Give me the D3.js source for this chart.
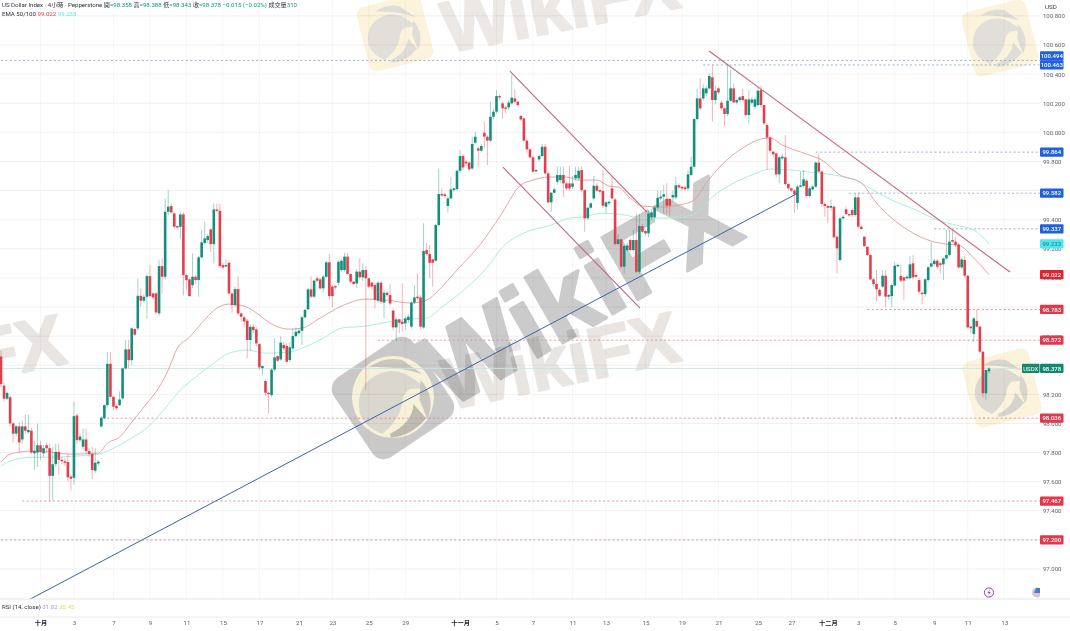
<!DOCTYPE html>
<html>
<head>
<meta charset="utf-8">
<script src="https://cdn.jsdelivr.net/npm/d3@7"></script>
<style>
  html, body { margin: 0; padding: 0; background: #fff; }
  svg { display: block; filter: blur(0.4px); }
  text { font-family: Roboto, "Noto Sans CJK TC", sans-serif; }
</style>
</head>
<body>
<div id="grafico"></div>
<script>
// Velas de 4 horas [open, high, low, close]
const octCandles = [
[98.46,98.50,98.25,98.27],[98.26,98.28,98.15,98.17],[98.17,98.22,98.16,98.21],[98.18,98.19,97.98,98.00],[98.00,98.01,97.87,97.93],[97.93,97.99,97.91,97.98],
[97.98,98.01,97.80,97.87],[97.89,98.02,97.86,97.98],[97.98,98.06,97.93,97.95],[97.94,98.06,97.93,97.955],[97.95,97.97,97.79,97.80],[97.795,97.88,97.68,97.812],
[97.80,98.00,97.70,97.85],[97.85,97.88,97.75,97.805],[97.795,97.85,97.77,97.83],[97.85,97.87,97.80,97.83],[97.83,97.86,97.47,97.64],[97.64,97.84,97.47,97.72],
[97.72,97.86,97.70,97.805],[97.805,97.86,97.645,97.75],[97.75,97.77,97.72,97.74],[97.74,97.76,97.71,97.73],[97.735,97.79,97.60,97.63],[97.635,97.65,97.54,97.62],
[97.627,98.15,97.58,98.05],[98.055,98.07,97.86,97.885],[97.885,97.93,97.87,97.91],[97.84,97.965,97.82,97.89],[97.89,97.965,97.79,97.81],[97.81,97.83,97.77,97.79],
[97.79,97.84,97.62,97.68],[97.675,97.83,97.66,97.73],[97.725,97.75,97.71,97.737],[97.98,98.05,97.97,98.04],[98.035,98.13,98.03,98.126],[98.126,98.49,98.11,98.41],
[98.41,98.49,98.17,98.183],[98.183,98.19,98.09,98.115],[98.12,98.13,98.09,98.104],[98.126,98.22,98.12,98.165],[98.172,98.385,98.165,98.378],[98.378,98.575,98.37,98.509],
[98.509,98.575,98.378,98.435],[98.435,98.66,98.40,98.653],[98.648,98.66,98.60,98.61],[98.653,98.995,98.64,98.877],[98.877,98.93,98.80,98.843],[98.843,98.89,98.83,98.87],
[98.87,99.03,98.72,99.012],[99.012,99.09,98.87,98.875],[98.893,98.90,98.85,98.866],[98.893,98.90,98.745,98.763],[98.756,99.122,98.74,99.081],[99.081,99.134,98.893,99.008],
[99.008,99.546,98.99,99.454],[99.454,99.603,99.43,99.489],[99.493,99.51,99.44,99.45],[99.443,99.45,99.34,99.351],[99.356,99.36,99.33,99.347],[99.351,99.45,99.27,99.436],
[99.436,99.45,98.88,99.019],[99.019,99.03,98.92,98.985],[98.99,99.00,98.87,98.875],[98.95,99.168,98.93,99.008],[99.008,99.02,98.96,98.985],[98.985,99.15,98.87,99.141],
[99.141,99.33,99.13,99.244],[99.24,99.386,99.23,99.271],[99.26,99.30,99.24,99.287],[99.333,99.34,99.18,99.232],[99.232,99.512,99.10,99.47],[99.47,99.51,99.45,99.461],
[99.461,99.51,99.07,99.081],[99.088,99.10,99.06,99.072],[99.081,99.127,99.07,99.088],[99.104,99.12,98.88,98.893],[98.893,98.90,98.76,98.813],[98.813,98.94,98.80,98.923],
[98.923,99.008,98.74,98.756],[98.756,98.76,98.70,98.733],[98.729,98.74,98.66,98.70],[98.706,98.72,98.447,98.573],[98.573,98.68,98.50,98.664],[98.664,98.68,98.62,98.641],
[98.646,98.66,98.53,98.55],[98.545,98.55,98.37,98.385],[98.38,98.40,98.33,98.394],[98.291,98.30,98.19,98.211],[98.211,98.215,98.07,98.206],[98.195,98.38,98.18,98.37],
[98.37,98.585,98.36,98.454],[98.463,98.47,98.42,98.431],[98.44,98.60,98.43,98.555],[98.539,98.56,98.50,98.516],[98.532,98.55,98.41,98.424],[98.436,98.56,98.42,98.523],
[98.516,98.65,98.50,98.60],[98.60,98.66,98.59,98.63],[98.62,98.65,98.61,98.637],[98.637,98.74,98.54,98.729],[98.729,98.79,98.72,98.78],[98.784,98.93,98.78,98.921],
[98.921,99.01,98.86,98.871],[98.871,98.99,98.86,98.981],[98.997,99.01,98.97,98.981],[98.99,99.00,98.92,98.928],[98.928,99.02,98.90,99.008],[99.008,99.12,99.00,99.107],
[99.107,99.164,98.85,98.875],[98.94,98.95,98.80,98.875],[98.944,98.95,98.92,98.935],[98.967,99.12,98.95,99.111],[99.054,99.13,99.04,99.118],[99.054,99.173,99.04,99.146],
[99.146,99.17,99.02,99.027],[99.027,99.03,98.96,98.974],[98.974,98.98,98.95,98.958],[98.962,99.06,98.93,99.043],[99.043,99.134,98.99,99.004],[99.004,99.10,98.98,99.054],
[99.054,99.08,98.23,98.997],[98.997,99.00,98.93,98.94],[98.967,98.97,98.92,98.94],[98.951,98.97,98.79,98.848],[98.843,98.98,98.83,98.967],[98.967,98.98,98.82,98.836],
[98.83,98.92,98.72,98.898],[98.898,98.91,98.87,98.882],[98.882,98.96,98.81,98.824],[98.775,98.79,98.64,98.66],[98.66,98.73,98.57,98.715],[98.715,98.72,98.62,98.692],
[98.699,98.962,98.63,98.683],[98.688,98.74,98.64,98.722],[98.71,98.75,98.69,98.733],[98.665,98.84,98.65,98.83],[98.83,98.95,98.82,98.866],[98.871,99.03,98.85,98.86],
[98.866,98.88,98.65,98.665],[98.66,99.375,98.65,99.185],[99.191,99.237,99.15,99.164],[99.164,99.226,98.997,99.104],[99.127,99.13,98.94,99.104],[99.118,99.37,99.11,99.363],
[99.363,99.752,99.35,99.576],[99.576,99.615,99.56,99.567],[99.574,99.58,99.55,99.562],[99.494,99.56,99.448,99.546],[99.546,99.695,99.54,99.608],[99.604,99.62,99.59,99.615],
[99.61,99.745,99.60,99.736]
];

const novCandles = [
[99.736,99.878,99.72,99.837],[99.837,99.85,99.74,99.759],[99.798,99.81,99.77,99.787],[99.792,99.80,99.73,99.746],[99.752,99.97,99.74,99.92],[99.929,100.004,99.92,99.97],
[99.89,99.90,99.764,99.874],[99.874,99.92,99.86,99.906],[99.997,100.073,99.89,99.97],[99.97,99.98,99.775,99.943],[99.943,100.21,99.93,100.107],[100.107,100.16,100.09,100.142],
[100.142,100.29,100.13,100.249],[100.249,100.26,100.22,100.24],[100.199,100.21,100.096,100.165],[100.171,100.18,100.13,100.162],[100.171,100.22,100.15,100.204],[100.199,100.394,100.19,100.238],
[100.233,100.30,100.20,100.21],[100.21,100.22,100.17,100.188],[100.112,100.12,100.08,100.089],[100.096,100.10,99.93,99.943],[99.943,99.95,99.86,99.883],[99.883,99.89,99.82,99.828],
[99.828,99.84,99.72,99.73],[99.735,99.75,99.73,99.741],[99.814,99.85,99.80,99.837],[99.837,99.92,99.83,99.901],[99.901,99.92,99.71,99.718],[99.718,99.73,99.51,99.519],
[99.519,99.59,99.455,99.585],[99.585,99.62,99.58,99.608],[99.661,99.764,99.64,99.707],[99.672,99.764,99.65,99.707],[99.707,99.764,99.556,99.649],[99.649,99.66,99.60,99.615],
[99.649,99.768,99.60,99.615],[99.626,99.70,99.61,99.649],[99.684,99.764,99.67,99.707],[99.684,99.76,99.67,99.736],[99.741,99.764,99.59,99.603],[99.603,99.61,99.317,99.409],
[99.409,99.49,99.40,99.482],[99.482,99.52,99.47,99.512],[99.546,99.70,99.53,99.633],[99.633,99.65,99.59,99.599],[99.603,99.61,99.58,99.592],[99.597,99.741,99.48,99.496],
[99.489,99.53,99.45,99.519],[99.512,99.53,99.50,99.523],[99.615,99.70,99.54,99.546],[99.539,99.55,99.22,99.233],[99.233,99.30,99.22,99.265],[99.265,99.27,99.06,99.077],
[99.077,99.23,99.03,99.219],[99.191,99.24,99.18,99.223],[99.26,99.27,99.18,99.191],[99.191,99.33,99.18,99.26],[99.26,99.443,99.03,99.042],[99.042,99.44,99.03,99.356],
[99.356,99.37,99.31,99.317],[99.322,99.33,99.29,99.306],[99.306,99.46,99.28,99.443],[99.416,99.47,99.40,99.45],[99.416,99.50,99.40,99.484],[99.484,99.60,99.47,99.551],
[99.546,99.60,99.53,99.558],[99.558,99.638,99.44,99.574],[99.542,99.65,99.44,99.496],[99.542,99.55,99.43,99.496],[99.553,99.60,99.52,99.569],[99.553,99.695,99.54,99.636],
[99.636,99.65,99.61,99.622],[99.626,99.63,99.60,99.615],[99.622,99.63,99.60,99.61],[99.615,99.74,99.60,99.711],[99.707,99.832,99.70,99.764],[99.764,100.10,99.75,100.091],
[100.091,100.30,100.08,100.233],[100.233,100.371,100.15,100.165],[100.233,100.33,100.22,100.302],[100.268,100.32,100.25,100.302],[100.302,100.405,100.29,100.387],[100.378,100.462,100.073,100.222],
[100.222,100.32,100.19,100.286],[100.302,100.31,100.26,100.274],[100.204,100.22,100.15,100.165],[100.165,100.17,100.04,100.126],[100.126,100.462,100.11,100.217],[100.217,100.428,100.21,100.302],
[100.302,100.336,100.20,100.206],[100.206,100.23,100.19,100.222],[100.222,100.25,100.21,100.24],[100.249,100.30,100.21,100.222],[100.226,100.23,100.11,100.119],[100.119,100.29,100.061,100.226],
[100.203,100.24,100.19,100.226],[100.176,100.24,100.16,100.226],[100.187,100.313,100.18,100.286],[100.29,100.32,100.17,100.187],[100.187,100.19,100.05,100.062],[100.05,100.06,99.741,99.965],
[99.965,99.97,99.86,99.874],[99.867,99.87,99.83,99.849],[99.855,99.86,99.69,99.711],[99.711,99.84,99.65,99.828],[99.821,99.85,99.81,99.833],[99.828,99.981,99.63,99.645],
[99.645,99.65,99.60,99.615],[99.615,99.62,99.59,99.60],[99.60,99.61,99.45,99.575],[99.515,99.64,99.47,99.627],[99.627,99.73,99.62,99.635],[99.631,99.74,99.62,99.677],
[99.668,99.68,99.55,99.563],[99.563,99.63,99.55,99.615],[99.608,99.64,99.60,99.627],[99.627,99.80,99.62,99.792],[99.792,99.856,99.72,99.73],[99.73,99.74,99.49,99.508],
[99.508,99.52,99.42,99.494]
];

const decCandles = [
[99.494,99.50,99.38,99.482],[99.482,99.54,99.46,99.494],[99.489,99.50,99.27,99.279],[99.283,99.29,99.03,99.203],[99.123,99.42,99.11,99.409],[99.409,99.43,99.40,99.42],
[99.471,99.49,99.43,99.439],[99.439,99.44,99.42,99.432],[99.466,99.48,99.42,99.432],[99.432,99.581,99.42,99.553],[99.553,99.58,99.34,99.352],[99.352,99.36,99.33,99.336],
[99.283,99.29,99.21,99.219],[99.214,99.22,99.15,99.157],[99.157,99.165,98.98,98.99],[98.99,99.00,98.94,98.958],[98.958,99.054,98.837,98.921],[98.917,98.93,98.87,98.878],
[98.94,99.054,98.93,99.015],[99.015,99.054,98.80,98.871],[98.871,98.89,98.85,98.882],[98.875,98.96,98.80,98.951],[98.947,99.11,98.94,99.084],[99.082,99.10,99.07,99.089],
[99.013,99.09,98.97,98.981],[99.004,99.01,98.848,98.981],[98.997,99.02,98.98,99.008],[98.997,99.15,98.99,99.093],[99.10,99.157,98.99,99.004],[99.02,99.03,99.00,99.008],
[98.985,99.00,98.89,98.905],[98.898,98.91,98.82,98.889],[98.889,99.00,98.87,98.99],[98.985,99.08,98.97,99.073],[99.077,99.249,99.07,99.10],[99.095,99.13,99.08,99.118],
[99.118,99.13,99.06,99.077],[99.10,99.11,99.03,99.089],[99.093,99.14,98.985,99.134],[99.134,99.329,99.12,99.157],[99.157,99.329,99.15,99.249],[99.26,99.33,99.24,99.249],
[99.249,99.28,99.21,99.226],[99.23,99.24,99.06,99.072],[99.072,99.14,99.06,99.127],[99.123,99.15,99.00,99.015],[99.015,99.02,98.65,98.66],[98.665,98.67,98.62,98.654],
[98.615,98.73,98.56,98.722],[98.704,98.784,98.66,98.665],[98.665,98.67,98.48,98.493],[98.493,98.50,98.18,98.207],[98.207,98.37,98.166,98.367],[98.358,98.388,98.343,98.378]
];

const emaRapidaBarras = [0,3,10,16,23,32,35,39,43,48,52,55,58,62,66,71,75,80,85,88,95,99,105,112,120,127,135,140,144,150,158,164,171,175,180,186,190,196,200,203,207,211,218,223,228,232,237,244,250,253,257,265,270,276,283,288,293,300,306,311,315,320,325];
const emaRapida = [97.734,97.789,97.81,97.803,97.789,97.796,97.865,97.906,98.009,98.139,98.249,98.366,98.517,98.593,98.689,98.792,98.82,98.806,98.744,98.696,98.648,98.655,98.724,98.806,98.854,98.847,98.827,98.847,98.916,99.054,99.239,99.418,99.638,99.672,99.693,99.693,99.672,99.672,99.631,99.624,99.548,99.493,99.487,99.5,99.535,99.652,99.775,99.892,99.954,99.961,99.913,99.851,99.81,99.707,99.652,99.514,99.411,99.308,99.253,99.232,99.225,99.136,99.022];

const emaLentaBarras = [0,3,10,16,24,32,37,43,49,53,59,64,70,75,81,87,95,99,106,112,120,127,135,140,145,153,160,165,172,181,187,191,198,205,211,218,224,229,234,241,247,253,260,266,274,281,288,293,301,308,314,320,325];
const emaLenta = [97.706,97.741,97.768,97.768,97.775,97.789,97.83,97.899,97.988,98.078,98.229,98.318,98.414,98.483,98.504,98.483,98.49,98.517,98.586,98.655,98.669,98.696,98.717,98.724,98.799,98.93,99.074,99.212,99.308,99.363,99.411,99.418,99.445,99.432,99.411,99.411,99.418,99.452,99.555,99.652,99.707,99.748,99.741,99.727,99.707,99.672,99.59,99.535,99.466,99.397,99.363,99.329,99.233];

// Ejes
const preciosEje = [100.8,100.6,100.4,100.2,100,99.8,99.6,99.4,99.2,99,98.8,98.6,98.4,98.2,98,97.8,97.6,97.4,97.2,97];
const barrasEje = [13,24,37,49,61,73,85,98,109,121,133,151,163,175,188,199,212,224,236,249,260,272,282,294,307,318,330];
const etiquetasEje = ['十月','3','7','9','11','15','17','21','23','25','29','十一月','5','7','11','13','15','19','21','25','27','十二月','3','5','9','11','13'];

// Niveles horizontales y barra donde empieza cada uno
const nivelesAzules = [100.494,100.463,99.864,99.582,99.337];
const inicioAzules = [0,231,268,279,307];
const nivelesRojos = [98.783,98.572,98.036,97.467,97.2];
const inicioRojos = [285,124,35,7,0];
const precioActual = 98.378;

// Lineas de tendencia: [barra inicial, precio inicial, barra final, precio final]
const tendenciasRojas = [[167.4,100.421,212.5,99.452],[165.1,99.761,210.2,98.792],[232.9,100.559,331.9,99.04]];
const tendenciaAzul = [9.5,96.792,262.2,99.583];

const ancho = 1070, alto = 631;
const bordeDerecho = 1040, bordePanel = 599;

const xScale = d3.scaleLinear().domain([0, 325]).range([1, 989]);
const yScale = d3.scaleLinear().domain([97, 100.6]).range([569, 45]);

const verde = '#089981', rojo = '#e0404e';
const candles = octCandles.concat(novCandles, decCandles);

const svg = d3.select('#grafico').append('svg').attr('width', ancho).attr('height', alto);
svg.append('rect').attr('width', ancho).attr('height', alto).attr('fill', '#fff');

svg.append('defs').append('clipPath').attr('id', 'panel')
  .append('rect').attr('width', bordeDerecho).attr('height', bordePanel);

// Marcas de agua, debajo de todo
const marca = svg.append('g');

function textoMarca(texto, x, y, tam, giro, color) {
  marca.append('text')
    .attr('transform', 'translate(' + x + ',' + y + ')rotate(' + giro + ')')
    .attr('text-anchor', 'middle')
    .style('font-family', 'Liberation Sans')
    .style('font-weight', 'bold')
    .style('font-size', tam + 'px')
    .style('mix-blend-mode', 'multiply')
    .attr('fill', color)
    .attr('stroke', color)
    .attr('stroke-width', tam * 0.03)
    .attr('stroke-linejoin', 'round')
    .text(texto);
}

// Aguila del logo: cabeza, rayos del obturador y media luna
function aguila(x, y, esc, colorRayos, colorCabeza, colorLuna) {
  const g = marca.append('g').attr('transform', 'translate(' + x + ',' + y + ')scale(' + esc + ')rotate(-8)');
  g.append('path')
    .attr('d', 'M-27,8 Q-28,-14 -8,-20 Q6,-24 18,-12 L27,-4 L14,-5 Q8,-3 6,6 Q2,18 -12,26 Q-24,20 -27,8Z')
    .attr('fill', colorCabeza);
  g.append('path').attr('d', 'M-15,-26 Q-2,-33 11,-28 L25,-15 Q6,-24 -15,-26Z').attr('fill', colorRayos);
  g.append('path').attr('d', 'M23,-11 Q33,4 24,20 L20,4Z').attr('fill', colorRayos);
  g.append('path').attr('d', 'M-6,27 Q12,21 15,7 L23,19 Q10,31 -6,30Z').attr('fill', colorLuna);
}

function cuadroCrema(x, y, lado, giro) {
  marca.append('rect')
    .attr('x', -lado / 2).attr('y', -lado / 2)
    .attr('width', lado).attr('height', lado).attr('rx', 8)
    .attr('transform', 'translate(' + x + ',' + y + ')rotate(' + giro + ')')
    .attr('fill', '#fbf3dc');
}

cuadroCrema(395, 33, 66, -14);
aguila(393, 34, 0.95, '#e0ddd9', '#e2dfdb', '#e0ddd9');
cuadroCrema(1000, 38, 66, -14);
aguila(998, 38, 0.95, '#e0ddd9', '#e2dfdb', '#e0ddd9');
cuadroCrema(1002, 388, 68, -14);
aguila(1000, 388, 0.95, '#d9d6d0', '#dcd9d3', '#d6d3cc');

textoMarca('WikiFX', 565, 30, 72, -11, '#ebe8e6');
textoMarca('FX', 24, 372, 72, -12, '#e8e5e3');
textoMarca('WikiFX', 566, 385, 72, -12, '#e8e5e3');
textoMarca('WikiFX', 597, 323, 104, -30, '#cbcbcb');

marca.append('rect')
  .attr('x', -48).attr('y', -48).attr('width', 96).attr('height', 96).attr('rx', 14)
  .attr('transform', 'translate(393,398)rotate(-34)')
  .attr('fill', '#c9c9c9');
marca.append('circle').attr('cx', 393).attr('cy', 397).attr('r', 41).attr('fill', '#f8f1da');
aguila(393, 398, 1.3, '#c9c7c0', '#d9d7ce', '#bdbbb2');

// Rejilla
svg.append('g').selectAll('line').data(preciosEje).enter().append('line')
  .attr('x1', 0).attr('x2', bordeDerecho)
  .attr('y1', (d) => yScale(d)).attr('y2', (d) => yScale(d))
  .attr('stroke', '#f1f1f1').attr('stroke-width', 1)
  .style('mix-blend-mode', 'multiply');

svg.append('g').selectAll('line').data(barrasEje).enter().append('line')
  .attr('x1', (d) => xScale(d)).attr('x2', (d) => xScale(d))
  .attr('y1', 0).attr('y2', bordePanel)
  .attr('stroke', '#f7f7f7').attr('stroke-width', 1)
  .style('mix-blend-mode', 'multiply');

const panel = svg.append('g').attr('clip-path', 'url(#panel)');

// Niveles punteados
function niveles(datos, inicios, color) {
  panel.append('g').selectAll('line').data(datos).enter().append('line')
    .attr('x1', (d, i) => xScale(inicios[i])).attr('x2', bordeDerecho)
    .attr('y1', (d) => yScale(d)).attr('y2', (d) => yScale(d))
    .attr('stroke', color).attr('stroke-width', 0.9)
    .attr('stroke-dasharray', '2 2.4');
}
niveles(nivelesAzules, inicioAzules, '#92aac8');
niveles(nivelesRojos, inicioRojos, '#de8a95');

panel.append('line')
  .attr('x1', 0).attr('x2', bordeDerecho)
  .attr('y1', yScale(precioActual)).attr('y2', yScale(precioActual))
  .attr('stroke', '#bfeae0').attr('stroke-width', 0.9);

// Medias moviles
const lineaEma = (barras) => d3.line()
  .x((d, i) => xScale(barras[i]))
  .y((d) => yScale(d))
  .curve(d3.curveMonotoneX);

panel.append('path').datum(emaLenta)
  .attr('d', lineaEma(emaLentaBarras))
  .attr('fill', 'none').attr('stroke', '#9decdf').attr('stroke-width', 0.9);

panel.append('path').datum(emaRapida)
  .attr('d', lineaEma(emaRapidaBarras))
  .attr('fill', 'none').attr('stroke', '#e89a9c').attr('stroke-width', 0.9);

// Velas
const velas = panel.append('g').selectAll('g').data(candles).enter().append('g')
  .attr('class', 'vela');

velas.append('line')
  .attr('x1', (d, i) => xScale(i)).attr('x2', (d, i) => xScale(i))
  .attr('y1', (d) => yScale(d[1])).attr('y2', (d) => yScale(d[2]))
  .attr('stroke', (d) => d[3] >= d[0] ? verde : rojo)
  .attr('stroke-opacity', 0.4).attr('stroke-width', 1);

velas.append('rect')
  .attr('x', (d, i) => xScale(i) - 1.3)
  .attr('width', 2.6)
  .attr('y', (d) => yScale(Math.max(d[0], d[3])))
  .attr('height', (d) => Math.max(1.4, Math.abs(yScale(d[0]) - yScale(d[3]))))
  .attr('fill', (d) => d[3] >= d[0] ? '#148f7b' : rojo);

// Lineas de tendencia
panel.append('g').selectAll('line').data(tendenciasRojas).enter().append('line')
  .attr('x1', (d) => xScale(d[0])).attr('y1', (d) => yScale(d[1]))
  .attr('x2', (d) => xScale(d[2])).attr('y2', (d) => yScale(d[3]))
  .attr('stroke', '#c8647a').attr('stroke-width', 1.1);

panel.append('line')
  .attr('x1', xScale(tendenciaAzul[0])).attr('y1', yScale(tendenciaAzul[1]))
  .attr('x2', xScale(tendenciaAzul[2])).attr('y2', yScale(tendenciaAzul[3]))
  .attr('stroke', '#3d62ab').attr('stroke-width', 1);

// Iconos de eventos
const rayo = svg.append('g').attr('transform', 'translate(' + xScale(325) + ',592.5)');
rayo.append('circle').attr('r', 4.6).attr('fill', '#fff').attr('stroke', '#9c3fc0').attr('stroke-width', 1);
rayo.append('path').attr('d', 'M0.8,-2.8 L-1.6,0.5 L-0.1,0.5 L-0.8,2.8 L1.6,-0.5 L0.1,-0.5Z').attr('fill', '#9c3fc0');

const bandera = svg.append('g').attr('clip-path', 'url(#panel)');
bandera.append('circle').attr('cx', 1037).attr('cy', 592.5).attr('r', 5).attr('fill', '#d8c8c8');
bandera.append('path').attr('d', 'M1036,588 L1040,588 L1040,593 L1034,593Z').attr('fill', '#3f7fd8');

// Separadores de paneles
svg.append('line').attr('x1', 0).attr('x2', ancho).attr('y1', bordePanel).attr('y2', bordePanel)
  .attr('stroke', '#e4e4e4').attr('stroke-width', 1);
svg.append('line').attr('x1', 0).attr('x2', ancho).attr('y1', 617).attr('y2', 617)
  .attr('stroke', '#ececec').attr('stroke-width', 1);

// Eje de precios
const ejeY = svg.append('g')
  .attr('transform', 'translate(' + (bordeDerecho + 3) + ',0)')
  .call(d3.axisRight(yScale).tickValues(preciosEje).tickFormat(d3.format('.3f')).tickSize(0).tickPadding(0));
ejeY.select('.domain').remove();
ejeY.selectAll('text').style('font-size', '6px').attr('fill', '#5a5f6a');

svg.append('text').attr('x', 1045).attr('y', 9)
  .style('font-size', '6.2px').attr('fill', '#3a3e48').text('USD');

// Eje de tiempo
const ejeX = svg.append('g')
  .attr('transform', 'translate(0,617)')
  .call(d3.axisBottom(xScale).tickValues(barrasEje)
    .tickFormat((d, i) => etiquetasEje[i]).tickSize(0).tickPadding(4));
ejeX.select('.domain').remove();
ejeX.selectAll('text')
  .style('font-size', '6.2px')
  .style('font-weight', (d, i) => etiquetasEje[i].length > 2 || etiquetasEje[i] === '十月' ? 'bold' : 'normal')
  .attr('fill', (d, i) => etiquetasEje[i].length > 2 || etiquetasEje[i] === '十月' ? '#20232c' : '#5a5f6a');

// Etiquetas de precio a la derecha
const etiquetas = nivelesAzules.map((d) => ({ v: d, fondo: '#1f5fe0', texto: '#fff' }))
  .concat(nivelesRojos.map((d) => ({ v: d, fondo: '#e6364a', texto: '#fff' })))
  .concat([{ v: emaLenta[emaLenta.length - 1], fondo: '#4fe6ee', texto: '#17979e' }])
  .concat([{ v: emaRapida[emaRapida.length - 1], fondo: '#e5202f', texto: '#fff' }])
  .concat([{ v: precioActual, fondo: '#14876f', texto: '#fff' }]);

etiquetas.sort((a, b) => b.v - a.v);
let yPrevia = -100;
etiquetas.forEach(function (e) {
  e.y = Math.max(yScale(e.v), yPrevia + 9);
  if (e.v === nivelesAzules[0]) e.y = yScale(e.v) - 4.5;
  yPrevia = e.y;
});

const tags = svg.append('g').selectAll('g').data(etiquetas).enter().append('g')
  .attr('transform', (d) => 'translate(' + bordeDerecho + ',' + d.y + ')');
tags.append('rect')
  .attr('x', 0).attr('y', -4.6).attr('width', 23.5).attr('height', 9.2).attr('rx', 1)
  .attr('fill', (d) => d.fondo);
tags.append('text')
  .attr('x', 11.75).attr('y', 2.1).attr('text-anchor', 'middle')
  .style('font-size', '6px').style('font-weight', 500)
  .attr('fill', (d) => d.texto)
  .text((d) => d3.format('.3f')(d.v));

const tagSimbolo = svg.append('g')
  .attr('transform', 'translate(1022,' + yScale(precioActual) + ')');
tagSimbolo.append('rect').attr('y', -4.6).attr('width', 17.5).attr('height', 9.2).attr('rx', 1).attr('fill', '#14876f');
tagSimbolo.append('text').attr('x', 8.75).attr('y', 2.1).attr('text-anchor', 'middle')
  .style('font-size', '6px').attr('fill', '#fff').text('USDX');

// Leyenda superior
function leyenda(y, trozos) {
  const t = svg.append('text').attr('x', 2).attr('y', y).style('font-size', '6.1px');
  trozos.forEach(function (p) {
    t.append('tspan').attr('fill', p[1]).text(p[0]);
  });
}
const gris = '#30343e';
leyenda(7.2, [
  ['US Dollar Index · 4小時 · Pepperstone  ', gris],
  ['開', gris], ['=98.358  ', verde], ['高', gris], ['=98.388  ', verde],
  ['低', gris], ['=98.343  ', verde], ['收', gris], ['=98.378  ', verde],
  ['−0.015 (−0.02%)  ', verde], ['成交量', gris], ['310', verde]
]);
leyenda(16.2, [['EMA 50/100  ', gris], ['99.022  ', '#e5404f'], ['99.233', '#5ce3ea']]);
leyenda(609, [['RSI (14, close)  ', gris], ['31.02  ', '#a89ad6'], ['35.45', '#e6dc5a']]);
</script>
</body>
</html>
